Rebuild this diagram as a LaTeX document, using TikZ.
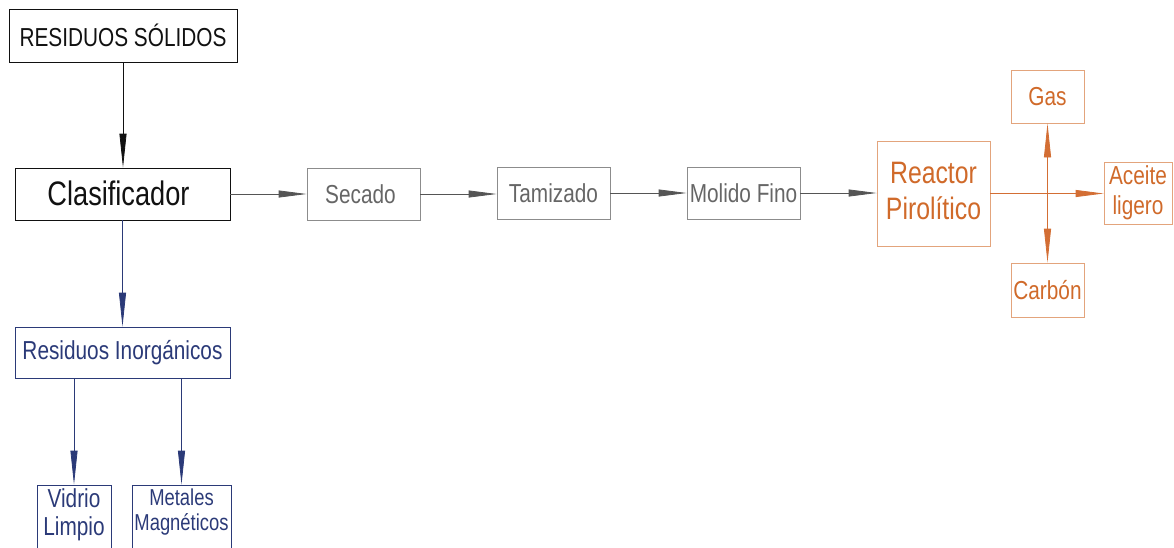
\documentclass[tikz,border=0pt]{standalone}
\usepackage{fontspec}
\setmainfont{Liberation Sans}[FakeStretch=0.8]
\usetikzlibrary{arrows.meta}

\definecolor{inkblack}{HTML}{111111}
\definecolor{greyline}{HTML}{8C8C8C}
\definecolor{greytext}{HTML}{666666}
\definecolor{greyarrow}{HTML}{555555}
\definecolor{navy}{HTML}{2B3A78}
\definecolor{orangetext}{HTML}{D06A2A}
\definecolor{orangeline}{HTML}{E3A47C}
\definecolor{orangearrow}{HTML}{D36E34}

\begin{document}
\begin{tikzpicture}[x=1pt,y=-1pt,
  box/.style={draw, rectangle, inner sep=0pt, line width=0.8pt, align=center},
  blackbox/.style={box, draw=inkblack, text=inkblack},
  greybox/.style={box, draw=greyline, text=greytext},
  navybox/.style={box, draw=navy, text=navy},
  orangebox/.style={box, draw=orangeline, text=orangetext},
  vtip/.style={-{Triangle[length=34pt,width=7pt]}, line width=0.8pt},
  htip/.style={-{Triangle[length=28pt,width=7pt]}, line width=0.8pt},
  fs25/.style={font=\fontsize{26}{31}\selectfont}
]
\useasboundingbox (0,0) rectangle (1174,547);
\clip (0,0) rectangle (1174,547);

% main line
\node[blackbox, minimum width=228pt, minimum height=53pt, fs25] (rs) at (123,35.5) {RESIDUOS SÓLIDOS};
\node[blackbox, minimum width=215pt, minimum height=52pt, font=\fontsize{34}{38}\selectfont] (clas) at (122.5,194) {\raisebox{2pt}{Clasificador}\hspace*{8pt}};
\node[greybox, minimum width=113pt, minimum height=52pt, fs25] (secado) at (363.5,194) {Secado\hspace*{6pt}};
\node[greybox, minimum width=113pt, minimum height=52pt, fs25] (tamiz) at (553.5,193) {Tamizado};
\node[greybox, minimum width=113pt, minimum height=52pt, fs25] (molido) at (743.5,193) {Molido Fino};

% pyrolysis and its products
\node[orangebox, minimum width=113pt, minimum height=105pt, font=\fontsize{31}{36}\selectfont] (reactor) at (933.5,193.5) {\raisebox{6pt}{Reactor}\\\raisebox{6pt}{Pirolítico}};
\node[orangebox, minimum width=73pt, minimum height=53pt, fs25] (gas) at (1047.5,96.5) {Gas};
\node[orangebox, minimum width=68pt, minimum height=62pt, font=\fontsize{26}{30}\selectfont] (aceite) at (1138,193) {Aceite\\ligero};
\node[orangebox, minimum width=73pt, minimum height=54pt, fs25] (carbon) at (1047.5,290) {Carbón};
\coordinate (cruce) at (gas.south |- reactor.east);

% inorganic branch
\node[navybox, minimum width=215pt, minimum height=51pt, fs25] (ri) at (122.5,352.5) {Residuos Inorgánicos};
\node[navybox, minimum width=74pt, minimum height=70pt] (vidrio) at (74,520) {};
\node[text=navy, inner sep=0pt, align=center, font=\fontsize{26}{28}\selectfont] (vidriotxt) at (74,515) {Vidrio\\Limpio};
\node[navybox, minimum width=99pt, minimum height=70pt] (metales) at (181.5,520) {};
\node[text=navy, inner sep=0pt, align=center, font=\fontsize{23}{25}\selectfont] (metalestxt) at (181.5,512) {Metales\\Magnéticos};

% connectors
\draw[vtip, inkblack] (rs.south) -- (rs.south |- clas.north);
\draw[htip, greyarrow] (clas.east) -- (secado.west);
\draw[htip, greyarrow] (secado.east) -- (secado.east -| tamiz.west);
\draw[htip, greyarrow] (tamiz.east) -- (molido.west);
\draw[htip, greyarrow] (molido.east) -- (molido.east -| reactor.west);

\draw[htip, orangearrow] (reactor.east) -- (reactor.east -| aceite.west);
\draw[vtip, orangearrow] (cruce) -- (gas.south);
\draw[vtip, orangearrow] (cruce) -- (carbon.north);

\draw[vtip, navy] (clas.south) -- (ri.north);
\draw[vtip, navy] (ri.south -| vidrio.north) -- (vidrio.north);
\draw[vtip, navy] (ri.south -| metales.north) -- (metales.north);
\end{tikzpicture}
\end{document}
